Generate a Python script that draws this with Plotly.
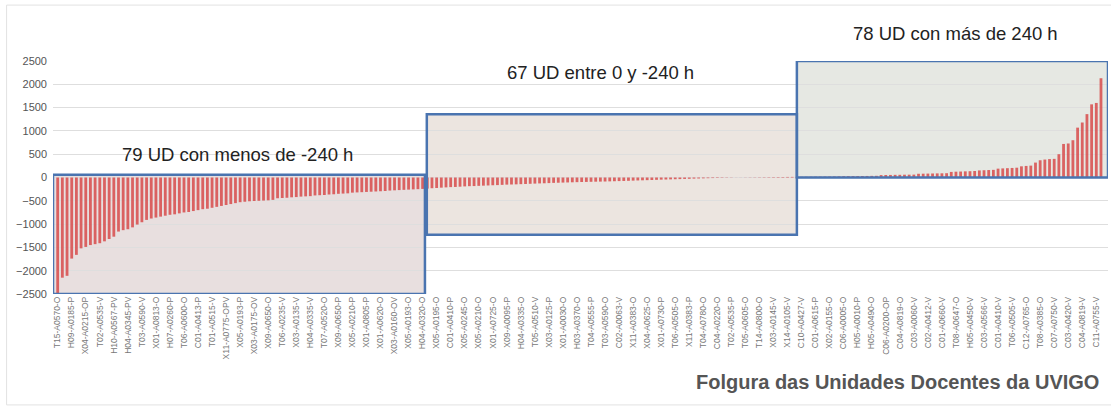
import plotly.graph_objects as go

# folgura (horas) por unidade docente, ordenada de menor a maior
grupo_neg = [-2480, -2150, -2110, -1740, -1660, -1520, -1490, -1450, -1430, -1410,
             -1370, -1320, -1270, -1160, -1130, -1110, -1070, -1010, -960, -910,
             -880, -860, -840, -820, -800, -790, -770, -750, -740, -720,
             -700, -680, -670, -650, -630, -610, -590, -570, -550, -530,
             -520, -510, -505, -500, -495, -490, -480, -445, -440, -435,
             -425, -420, -410, -405, -400, -385, -380, -375, -365, -360,
             -350, -345, -340, -325, -320, -315, -310, -305, -300, -295,
             -290, -280, -275, -270, -265, -260, -255, -250, -245]
grupo_medio = [-238, -230, -226, -218, -212, -206, -203, -197, -191, -186,
               -184, -179, -175, -171, -166, -163, -158, -153, -150, -147,
               -143, -139, -135, -131, -127, -124, -120, -115, -112, -109,
               -106, -103, -100, -97, -95, -92, -90, -88, -86, -83,
               -80, -77, -74, -71, -67, -63, -60, -57, -54, -50,
               -46, -43, -40, -37, -34, -31, -28, -24, -21, -18,
               -15, -12, -10, -8, -6, -4, -2]
grupo_pos = [2, 3, 4, 5, 6, 7, 8, 9, 10, 11, 12, 13, 14, 15, 16, 17, 18, 19, 20, 21, 22, 24,
             28, 29, 30, 31, 32, 33, 35, 36,
             52, 54, 55, 57, 58, 60, 61, 62,
             80, 82, 84, 86, 88, 90, 92,
             120, 125, 128, 132, 135, 140,
             152, 156, 160, 164,
             190, 195, 200, 205, 210,
             240, 248, 255,
             320,
             370, 385, 395, 400,
             500, 720, 730, 800, 1070, 1180, 1360, 1570, 1600, 2130]

# etiquetas visibles (unha de cada tres UD)
etiquetas = ["T15-A0570-O", "H09-A0185-P", "X04-A0215-OP", "T02-A0535-V", "H10-A0567-PV",
             "H04-A0345-PV", "T03-A0590-V", "X01-A0813-O", "H07-A0260-P", "T06-A0600-O",
             "C01-A0413-P", "T01-A0515-V", "X11-A0775-OPV", "X05-A0193-P", "X03-A0175-OV",
             "X09-A0650-O", "T06-A0235-V", "X03-A0135-V", "H04-A0335-V", "T07-A0520-O",
             "X09-A0650-P", "X05-A0210-P", "X01-A0805-P", "X01-A0620-O", "X03-A0160-OV",
             "X05-A0193-O", "H04-A0320-O", "X05-A0195-O", "C01-A0410-P", "X05-A0245-O",
             "X05-A0210-O", "X01-A0725-O", "X09-A0095-P", "H04-A0335-O", "T05-A0510-V",
             "X03-A0125-P", "X01-A0030-O", "H03-A0370-O", "T04-A0555-P", "T03-A0590-O",
             "C02-A0063-V", "X11-A0383-O", "X04-A0625-O", "X01-A0730-P", "T06-A0505-O",
             "X11-A0383-P", "T04-A0780-O", "C04-A0220-O", "T02-A0535-P", "T05-A0605-O",
             "T14-A0800-O", "X03-A0145-V", "X14-A0105-V", "C10-A0427-V", "C01-A0615-P",
             "X02-A0155-O", "C06-A0005-O", "H05-A0010-P", "H05-A0490-O", "C06-A0200-OP",
             "C04-A0819-O", "C03-A0060-V", "C02-A0412-V", "C01-A0660-V", "T08-A0647-O",
             "H05-A0450-V", "C03-A0566-V", "C01-A0410-V", "T06-A0505-V", "C12-A0765-O",
             "T08-A0385-O", "C07-A0750-V", "C03-A0420-V", "C04-A0819-V", "C11-A0755-V"]

textos = ["79 UD con menos de -240 h", "67 UD entre 0 y -240 h", "78 UD con más de 240 h"]
titulo = "Folgura das Unidades Docentes da UVIGO"

valores = grupo_neg + grupo_medio + grupo_pos
pos = list(range(len(valores)))
n1 = len(grupo_neg)

fig = go.Figure(go.Bar(
    x=pos, y=valores,
    marker=dict(color="rgba(215,70,70,0.82)", line=dict(width=0)),
    hoverinfo="x+y",
))

FONT = "Liberation Sans, Arial, sans-serif"
AZUL = "#4a74b0"

# caixas de fondo (debaixo da grella) e bordos (enriba das barras)
caixas = [
    (-1.0, n1 - 0.5, -2500, 60, "#e8dfdf"),
    (n1 - 0.1, 158.0, -1230, 1355, "#ece5e0"),
    (158.0, 224.5, 0, 2500, "#e6e8e3"),
]
for x0, x1, y0, y1, cor in caixas:
    fig.add_shape(type="rect", x0=x0, x1=x1, y0=y0, y1=y1, xref="x", yref="y",
                  fillcolor=cor, line=dict(width=0), layer="below")
for x0, x1, y0, y1, cor in caixas:
    fig.add_shape(type="rect", x0=x0, x1=x1, y0=y0, y1=y1, xref="x", yref="y",
                  fillcolor="rgba(0,0,0,0)", line=dict(color=AZUL, width=2.5), layer="above")

# marco xeral da imaxe
fig.add_shape(type="rect", xref="paper", yref="paper", x0=-0.044, x1=1.01, y0=-0.476, y1=1.24,
              line=dict(color="#e2e2e2", width=1), fillcolor="rgba(0,0,0,0)", layer="below")

notas = [(38.5, 500, "y", textos[0]), (116, 2260, "y", textos[1]), (192, 1.12, "paper", textos[2])]
for xa, ya, yr, txt in notas:
    fig.add_annotation(x=xa, y=ya, xref="x", yref=yr, text=txt, showarrow=False,
                       xanchor="center", yanchor="middle",
                       font=dict(family=FONT, size=18.5, color="#222"))
fig.add_annotation(x=0.993, y=-0.378, xref="paper", yref="paper", text="<b>" + titulo + "</b>",
                   showarrow=False, xanchor="right", yanchor="middle",
                   font=dict(family=FONT, size=20, color="#555"))

fig.update_layout(
    width=1111, height=410,
    margin=dict(l=53, r=3, t=61, b=116),
    paper_bgcolor="white", plot_bgcolor="white",
    bargap=0.4, showlegend=False,
    font=dict(family=FONT, color="#555"),
    xaxis=dict(range=[-1.0, 224.5], tickmode="array", tickvals=pos[::3], ticktext=etiquetas,
               tickangle=-90, tickfont=dict(size=8.5, color="#777"), showgrid=False,
               zeroline=False, showline=False, ticks=""),
    yaxis=dict(range=[-2500, 2500], dtick=500, tickfont=dict(size=11, color="#555"),
               ticklabelstandoff=5,
               gridcolor="#dedede", gridwidth=1, zeroline=False, showline=False, ticks=""),
)

fig.write_html("out.html", config={"displayModeBar": False},
               post_script="document.body.style.margin='0';document.body.style.overflow='hidden';")
